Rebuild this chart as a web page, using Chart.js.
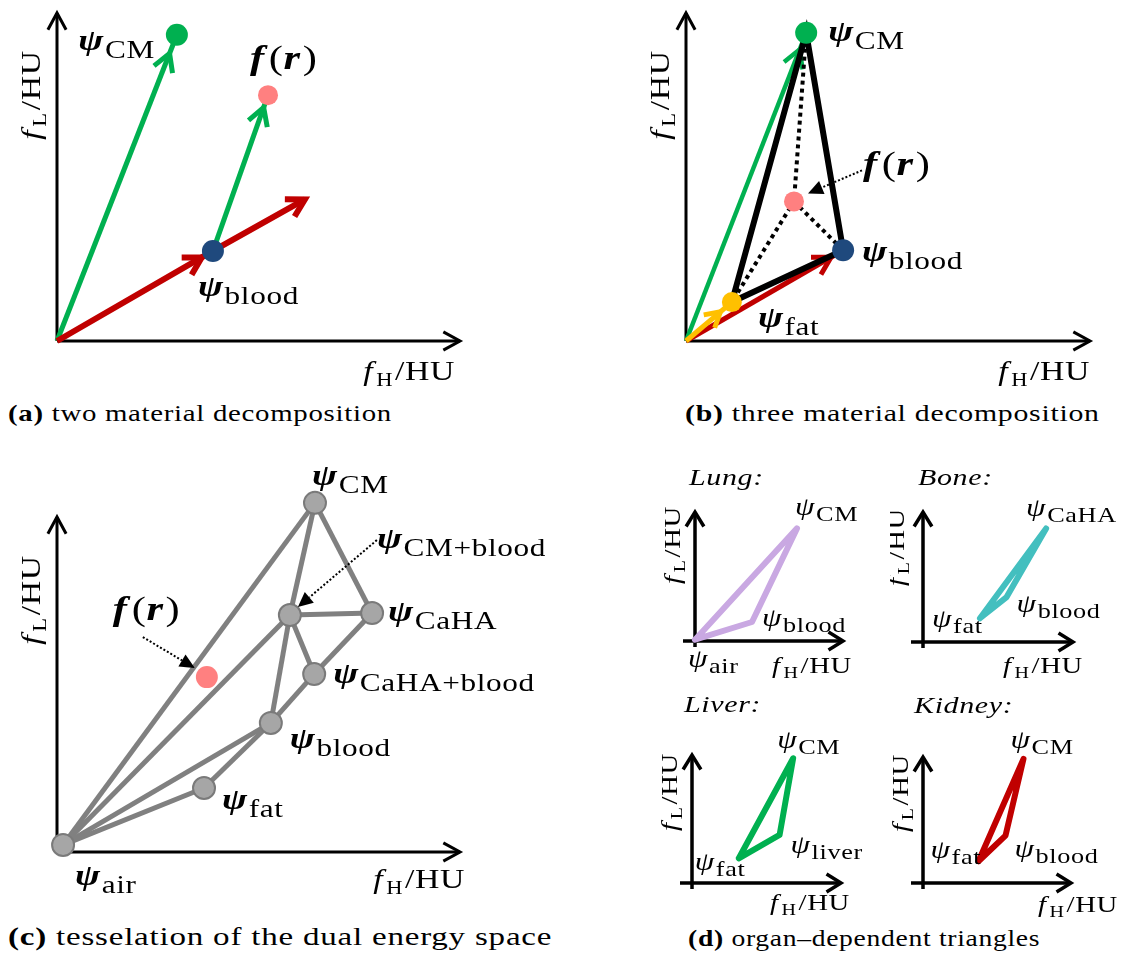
<!DOCTYPE html>
<html>
<head>
<meta charset="utf-8">
<script src="https://cdn.jsdelivr.net/npm/chart.js@4.4.0/dist/chart.umd.min.js"></script>
<style>
  body { margin: 0; background: #fff; width: 1123px; height: 954px; position: relative; overflow: hidden; }
  canvas { position: absolute; }
  .cap { position: absolute; font-family: "Liberation Serif", "DejaVu Serif", serif; font-size: 24px;
         letter-spacing: 0.6px; line-height: 26px; white-space: nowrap; color: #000;
         transform: scaleX(1.2); transform-origin: 0 0; }
</style>
</head>
<body>
<canvas id="pa" width="560" height="395" style="left:0;top:0"></canvas>
<canvas id="pb" width="563" height="395" style="left:560px;top:0"></canvas>
<canvas id="pc" width="560" height="460" style="left:0;top:440px"></canvas>
<canvas id="pLung" width="230" height="230" style="left:660px;top:460px"></canvas>
<canvas id="pBone" width="233" height="230" style="left:890px;top:460px"></canvas>
<canvas id="pLiver" width="230" height="235" style="left:660px;top:690px"></canvas>
<canvas id="pKidney" width="233" height="235" style="left:890px;top:690px"></canvas>

<div class="cap" style="left:8px;top:400px"><b>(a)</b> two material decomposition</div>
<div class="cap" style="left:685px;top:400px;transform:scaleX(1.24)"><b>(b)</b> three material decomposition</div>
<div class="cap" style="left:8px;top:924px;font-size:25px;transform:scaleX(1.32)"><b>(c)</b> tesselation of the dual energy space</div>
<div class="cap" style="left:688px;top:925px;transform:scaleX(1.15)"><b>(d)</b> organ–dependent triangles</div>

<script>
// (a) two material decomposition, axes run 0..100 in both directions
var aNames = ['CM', 'blood', 'f', 'dir'];
var aX = [29.6, 38.5, 52.1, 61.2];
var aY = [92.8, 27.3, 74.5, 42.9];

// (b) three material decomposition
var bNames = ['CM', 'blood', 'fat', 'f'];
var bX = [29.6, 38.7, 11.3, 26.6];
var bY = [93.4, 27.5, 11.8, 42.3];

// (c) tesselation of the dual energy space
var cNames = ['air', 'fat', 'blood', 'CaHA+blood', 'CaHA', 'CM+blood', 'CM'];
var cX = [1.5, 36.3, 52.8, 63.5, 77.8, 57.5, 63.7];
var cY = [2.1, 19.0, 38.3, 52.8, 70.9, 70.3, 103.6];
var cEdges = [
  ['air', 'CM'], ['air', 'CM+blood'], ['air', 'blood'], ['air', 'fat'],
  ['fat', 'blood'], ['blood', 'CaHA+blood'], ['CaHA+blood', 'CaHA'], ['CaHA', 'CM'],
  ['CM', 'CM+blood'], ['CM+blood', 'CaHA'], ['CM+blood', 'blood'], ['CM+blood', 'CaHA+blood']
];
var cSampleX = 37.0;
var cSampleY = 51.9;

// (d) organ dependent triangles
var organs = ['Lung', 'Bone', 'Liver', 'Kidney'];
var organMaterials = [['air', 'blood', 'CM'], ['fat', 'blood', 'CaHA'], ['fat', 'liver', 'CM'], ['fat', 'blood', 'CM']];
var organX = [[0, 38, 68], [37.5, 55, 81], [31, 58, 67], [37, 55, 67]];
var organY = [[1, 14.5, 86], [18, 34, 86], [19, 37, 96], [17, 37, 97]];

var GREEN = '#00b050', RED = '#c00000', NAVY = '#1f497d', PINK = '#ff8080', YELLOW = '#ffc000';
var GREY = '#808080', NODE = '#a6a6a6';
var organColors = ['#c9a8e2', '#43bfbf', GREEN, RED];
var SERIF = '"Liberation Serif", "DejaVu Serif", serif';
var STRETCH = 1.25; // widen glyphs a little, like TeX's roman

function P(names, xs, ys, n) {
  var i = names.indexOf(n);
  return { x: xs[i], y: ys[i] };
}
var O = { x: 0, y: 0 };

// text made of pieces (symbol, subscript, ...)
function part(t, style, size, dy, gap) {
  return { t: t, font: style + ' ' + size + 'px ' + SERIF, dy: dy || 0, gap: gap || 0 };
}
function psi(sub, bold, size) {
  var s = size || 30;
  return [part('ψ', bold ? 'italic bold' : 'italic', s, 0, 1), part(sub, 'normal', Math.round(s * 0.83), Math.round(s * 0.25))];
}
function fOfR(size) {
  var s = size || 34;
  return [part('f', 'italic bold', s, 0, 4), part('(', 'normal', s), part('r', 'italic bold', s, 0, 2), part(')', 'normal', s)];
}
function axisText(sub, size) {
  var s = size || 27;
  return [part('f', 'italic', s, 0, 3), part(sub, 'normal', Math.round(s * 0.68), Math.round(s * 0.22), 2), part('/HU', 'normal', s)];
}
function partsWidth(ctx, parts) {
  var w = 0;
  ctx.letterSpacing = '0.5px';
  parts.forEach(function (p) {
    ctx.font = p.font;
    w += ctx.measureText(p.t).width * STRETCH + p.gap;
  });
  return w;
}
function drawParts(ctx, x, y, parts) {
  ctx.fillStyle = '#000';
  ctx.textBaseline = 'alphabetic';
  ctx.textAlign = 'left';
  ctx.letterSpacing = '0.5px';
  parts.forEach(function (p) {
    ctx.font = p.font;
    ctx.save();
    ctx.translate(x, y + p.dy);
    ctx.scale(STRETCH, 1);
    ctx.fillText(p.t, 0, 0);
    ctx.restore();
    x += ctx.measureText(p.t).width * STRETCH + p.gap;
  });
  ctx.letterSpacing = '0px';
}

function chevron(ctx, x, y, ang, len, spread, lw, color) {
  ctx.save();
  ctx.strokeStyle = color; ctx.lineWidth = lw;
  ctx.lineJoin = 'miter'; ctx.lineCap = 'butt';
  ctx.setLineDash([]);
  ctx.beginPath();
  ctx.moveTo(x - len * Math.cos(ang - spread), y - len * Math.sin(ang - spread));
  ctx.lineTo(x, y);
  ctx.lineTo(x - len * Math.cos(ang + spread), y - len * Math.sin(ang + spread));
  ctx.stroke();
  ctx.restore();
}

function deco(cfg) {
  return {
    id: 'deco',
    beforeDatasetsDraw: function (chart) {
      var a = chart.chartArea, ctx = chart.ctx, ax = cfg.axes;
      ctx.save();
      ctx.strokeStyle = '#000'; ctx.lineWidth = ax.width;
      ctx.beginPath();
      ctx.moveTo(a.left - ax.extX, a.bottom); ctx.lineTo(a.right - 2, a.bottom);
      ctx.moveTo(a.left, a.bottom + ax.extY); ctx.lineTo(a.left, a.top + 2);
      ctx.stroke();
      ctx.restore();
      chevron(ctx, a.right - 2, a.bottom, 0, ax.head, ax.spread, ax.width, '#000');
      chevron(ctx, a.left, a.top + 2, -Math.PI / 2, ax.head, ax.spread, ax.width, '#000');
    },
    afterDatasetDraw: function (chart, args) {
      (cfg.arrows || []).forEach(function (h) {
        if (h.ds !== args.index) return;
        var pts = chart.getDatasetMeta(h.ds).data, ds = chart.data.datasets[h.ds];
        var p1 = pts[h.idx], p0 = pts[h.idx - 1];
        var ang = Math.atan2(p1.y - p0.y, p1.x - p0.x);
        chevron(chart.ctx, p1.x - h.back * Math.cos(ang), p1.y - h.back * Math.sin(ang),
          ang, h.len || 20, 0.52, ds.borderWidth, ds.borderColor);
      });
    },
    afterDatasetsDraw: function (chart) {
      var a = chart.chartArea, ctx = chart.ctx;
      var sx = chart.scales.x, sy = chart.scales.y;
      ctx.save();
      // dotted pointers with a filled head
      (cfg.callouts || []).forEach(function (c) {
        var px = sx.getPixelForValue(c.at.x), py = sy.getPixelForValue(c.at.y);
        var x0 = px + c.s[0], y0 = py + c.s[1], x1 = px + c.e[0], y1 = py + c.e[1];
        var ang = Math.atan2(y1 - y0, x1 - x0), hl = 15, hw = 7;
        var bx = x1 - hl * Math.cos(ang), by = y1 - hl * Math.sin(ang);
        ctx.strokeStyle = '#000'; ctx.lineWidth = 2; ctx.setLineDash([2, 2]);
        ctx.beginPath(); ctx.moveTo(x0, y0); ctx.lineTo(bx, by); ctx.stroke();
        ctx.setLineDash([]);
        ctx.fillStyle = '#000';
        ctx.beginPath();
        ctx.moveTo(x1, y1);
        ctx.lineTo(bx + hw * Math.sin(ang), by - hw * Math.cos(ang));
        ctx.lineTo(bx - hw * Math.sin(ang), by + hw * Math.cos(ang));
        ctx.closePath(); ctx.fill();
      });
      // material labels next to their points
      (cfg.labels || []).forEach(function (lb) {
        var x = sx.getPixelForValue(lb.at.x) + lb.dx, y = sy.getPixelForValue(lb.at.y) + lb.dy;
        if (lb.align === 'right') x -= partsWidth(ctx, lb.parts);
        drawParts(ctx, x, y, lb.parts);
      });
      // axis titles
      var xl = cfg.xLabel, yl = cfg.yLabel;
      drawParts(ctx, a.right + xl.dx - partsWidth(ctx, xl.parts), a.bottom + xl.dy, xl.parts);
      ctx.save();
      ctx.translate(a.left + yl.dx, a.top + yl.dy);
      ctx.rotate(-Math.PI / 2);
      drawParts(ctx, -partsWidth(ctx, yl.parts) / 2, 0, yl.parts);
      ctx.restore();
      if (cfg.title) {
        drawParts(ctx, a.left + cfg.title.dx, a.top + cfg.title.dy, [part(cfg.title.text, 'italic', 24, 0)]);
      }
      ctx.restore();
    }
  };
}

function seg(points, color, width, order, extra) {
  return Object.assign({ data: points, showLine: true, borderColor: color, borderWidth: width,
    pointRadius: 0, order: order, clip: false }, extra || {});
}
function dots(points, colors, radius, extra) {
  return Object.assign({ data: points, showLine: false, pointRadius: radius, pointHoverRadius: radius,
    pointBackgroundColor: colors, pointBorderWidth: 0, order: 0, clip: false }, extra || {});
}

function panel(id, pad, datasets, cfg) {
  return new Chart(document.getElementById(id), {
    type: 'scatter',
    data: { datasets: datasets },
    options: {
      responsive: false,
      animation: false,
      events: [],
      layout: { padding: pad },
      scales: {
        x: { type: 'linear', min: 0, max: 100, display: false },
        y: { type: 'linear', min: 0, max: 100, display: false }
      },
      plugins: { legend: { display: false }, tooltip: { enabled: false } }
    },
    plugins: [deco(cfg)]
  });
}

var bigAxes = { width: 3, head: 19, spread: 0.5, extX: 0, extY: 0 };
var smallAxes = { width: 3.5, head: 17, spread: 0.55, extX: 12, extY: 6 };

// ---- (a)
var aCM = P(aNames, aX, aY, 'CM'), aBlood = P(aNames, aX, aY, 'blood');
var aF = P(aNames, aX, aY, 'f'), aDir = P(aNames, aX, aY, 'dir');
panel('pa', { left: 57, top: 8, right: 98, bottom: 54 }, [
  seg([O, aCM], GREEN, 5, 3),
  seg([aBlood, aF], GREEN, 5, 3),
  seg([O, aBlood, aDir], RED, 6, 2),
  dots([aCM, aF, aBlood], [GREEN, PINK, NAVY], [11, 10, 11])
], {
  axes: bigAxes,
  arrows: [{ ds: 0, idx: 1, back: 20 }, { ds: 1, idx: 1, back: 13 }, { ds: 2, idx: 1, back: 13 }, { ds: 2, idx: 2, back: 0 }],
  labels: [
    { at: aCM, dx: -22, dy: 15, align: 'right', parts: psi('CM', true) },
    { at: aF, dx: -18, dy: -26, parts: fOfR() },
    { at: aBlood, dx: -15, dy: 45, parts: psi('blood', true) }
  ],
  xLabel: { dx: -7, dy: 39, parts: axisText('H') },
  yLabel: { dx: -17, dy: 84, parts: axisText('L') }
});

// ---- (b)
var bCM = P(bNames, bX, bY, 'CM'), bBlood = P(bNames, bX, bY, 'blood');
var bFat = P(bNames, bX, bY, 'fat'), bF = P(bNames, bX, bY, 'f');
panel('pb', { left: 126, top: 10, right: 31, bottom: 54 }, [
  seg([O, bCM], GREEN, 4.5, 5),
  seg([O, bBlood], RED, 5, 4),
  seg([O, bFat], YELLOW, 5, 3),
  seg([bFat, bCM, bBlood, bFat], '#000', 6, 2),
  seg([bCM, bF, bFat], '#000', 4, 1, { borderDash: [4, 4] }),
  seg([bF, bBlood], '#000', 4, 1, { borderDash: [4, 4] }),
  dots([bCM, bBlood, bFat, bF], [GREEN, NAVY, YELLOW, PINK], [11, 11, 10, 10])
], {
  axes: bigAxes,
  arrows: [{ ds: 0, idx: 1, back: 18 }, { ds: 1, idx: 1, back: 14 }, { ds: 2, idx: 1, back: 15, len: 17 }],
  callouts: [{ at: bF, s: [68, -31], e: [14, -8] }],
  labels: [
    { at: bCM, dx: 22, dy: 8, parts: psi('CM', true) },
    { at: bF, dx: 69, dy: -26, parts: fOfR() },
    { at: bBlood, dx: 19, dy: 11, parts: psi('blood', true) },
    { at: bFat, dx: 26, dy: 25, parts: psi('fat', true) }
  ],
  xLabel: { dx: -2, dy: 39, parts: axisText('H') },
  yLabel: { dx: -17, dy: 84, parts: axisText('L') }
});

// ---- (c)
var cNode = function (n) { return P(cNames, cX, cY, n); };
var cSample = { x: cSampleX, y: cSampleY };
var cSets = cEdges.map(function (e) { return seg([cNode(e[0]), cNode(e[1])], GREY, 5, 2); });
cSets.push(dots(cNames.map(cNode), NODE, 11, { pointBorderWidth: 2, pointBorderColor: '#7a7a7a' }));
cSets.push(dots([cSample], PINK, 11));
panel('pc', { left: 57, top: 75, right: 98, bottom: 48 }, cSets, {
  axes: bigAxes,
  callouts: [
    { at: cSample, s: [-64, -40], e: [-12, -9] },
    { at: cNode('CM+blood'), s: [87, -75], e: [8, -8] }
  ],
  labels: [
    { at: cNode('CM'), dx: -3, dy: -18, parts: psi('CM', true, 30) },
    { at: cNode('CM+blood'), dx: 87, dy: -67, parts: psi('CM+blood', true, 30) },
    { at: cNode('CaHA'), dx: 16, dy: 8, parts: psi('CaHA', true, 30) },
    { at: cNode('CaHA+blood'), dx: 19, dy: 9, parts: psi('CaHA+blood', true, 30) },
    { at: cNode('blood'), dx: 19, dy: 25, parts: psi('blood', true, 30) },
    { at: cNode('fat'), dx: 18, dy: 21, parts: psi('fat', true, 30) },
    { at: cNode('air'), dx: 12, dy: 40, parts: psi('air', true, 30) },
    { at: cSample, dx: -94, dy: -57, parts: fOfR() }
  ],
  xLabel: { dx: 3, dy: 36, parts: axisText('H') },
  yLabel: { dx: -17, dy: 85, parts: axisText('L') }
});

// ---- (d)
var organPads = [
  { left: 35, top: 50, right: 45, bottom: 49 },
  { left: 33, top: 50, right: 48, bottom: 48 },
  { left: 32, top: 63, right: 47, bottom: 42 },
  { left: 33, top: 65, right: 50, bottom: 42 }
];
var organLabelOffsets = [
  [[-7, 27], [10, 4], [-2, -13]],
  [[-48, 9], [10, 15], [-20, -12]],
  [[-44, 12], [11, 18], [-16, -10]],
  [[-48, -3], [9, 21], [-13, -11]]
];
var organTitleOffsets = [[-6, -25], [-5, -25], [-8, -41], [-9, -42]];
var organXLabel = [[7, 32], [8, 31], [7, 27], [45, 29]];
var organYLabel = [[-15, 35], [-19, 37], [-15, 39], [-15, 38]];

organs.forEach(function (organ, k) {
  var pts = organX[k].map(function (x, i) { return { x: x, y: organY[k][i] }; });
  panel('p' + organ, organPads[k], [
    seg(pts.concat([pts[0]]), organColors[k], 6, 1, { borderJoinStyle: 'round', borderCapStyle: 'round' })
  ], {
    axes: smallAxes,
    title: { text: organ + ':', dx: organTitleOffsets[k][0], dy: organTitleOffsets[k][1] },
    labels: organMaterials[k].map(function (m, i) {
      return { at: pts[i], dx: organLabelOffsets[k][i][0], dy: organLabelOffsets[k][i][1], parts: psi(m, false, 25) };
    }),
    xLabel: { dx: organXLabel[k][0], dy: organXLabel[k][1], parts: axisText('H', 23) },
    yLabel: { dx: organYLabel[k][0], dy: organYLabel[k][1], parts: axisText('L', 23) }
  });
});
</script>
</body>
</html>
